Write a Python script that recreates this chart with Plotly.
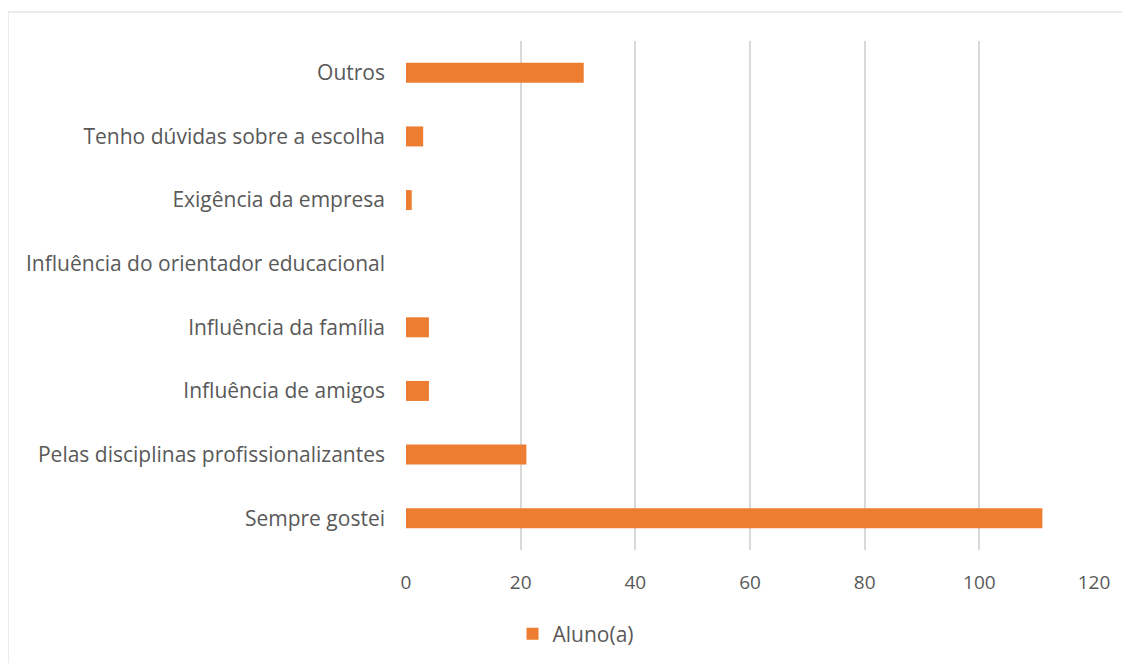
import plotly.graph_objects as go

categories = [
    "Sempre gostei",
    "Pelas disciplinas profissionalizantes",
    "Influência de amigos",
    "Influência da família",
    "Influência do orientador educacional",
    "Exigência da empresa",
    "Tenho dúvidas sobre a escolha",
    "Outros",
]
values = [111, 21, 4, 4, 0, 1, 3, 31]
series_name = "Aluno(a)"
x_ticks = [0, 20, 40, 60, 80, 100, 120]

OFF = 8  # page body margin
W, H = 1130 - OFF, 663 - OFF
L, R, T, B = 406 - OFF, 36, 41 - OFF, 113
pw, ph = W - L - R, H - T - B

def px_x(p):
    return (p - OFF - L) / pw

def px_y(p):
    return (H - B - (p - OFF)) / ph

fig = go.Figure()
fig.add_trace(go.Bar(
    y=categories, x=values, orientation="h", name=series_name,
    marker=dict(color="#ED7D31", line=dict(width=0)),
))

font_family = "'Open Sans', Lato, sans-serif"
fig.update_layout(
    width=W, height=H,
    margin=dict(l=L, r=R, t=T, b=B, autoexpand=False),
    paper_bgcolor="white", plot_bgcolor="white",
    bargap=0.686,
    font=dict(family=font_family, size=19, color="#595959"),
    showlegend=True,
    legend=dict(orientation="h", x=px_x(576), y=px_y(634),
                xanchor="center", yanchor="middle",
                font=dict(size=21, color="#595959"),
                itemwidth=30),
    xaxis=dict(range=[0, 120], tickvals=x_ticks, showgrid=True,
               gridcolor="#d9d9d9", gridwidth=1.5, zeroline=False,
               showline=False, ticks="", ticklabelstandoff=19,
               tickfont=dict(size=19, color="#595959")),
    yaxis=dict(categoryorder="array", categoryarray=categories,
               showgrid=False, zeroline=False, showline=False,
               ticks="", ticklabelstandoff=20,
               tickfont=dict(size=21, color="#595959")),
    shapes=[dict(type="rect", xref="paper", yref="paper",
                 x0=px_x(8), x1=px_x(1131), y0=px_y(664), y1=px_y(12),
                 line=dict(color="#d9d9d9", width=1), layer="below")],
)

fig.write_html("out.html")
